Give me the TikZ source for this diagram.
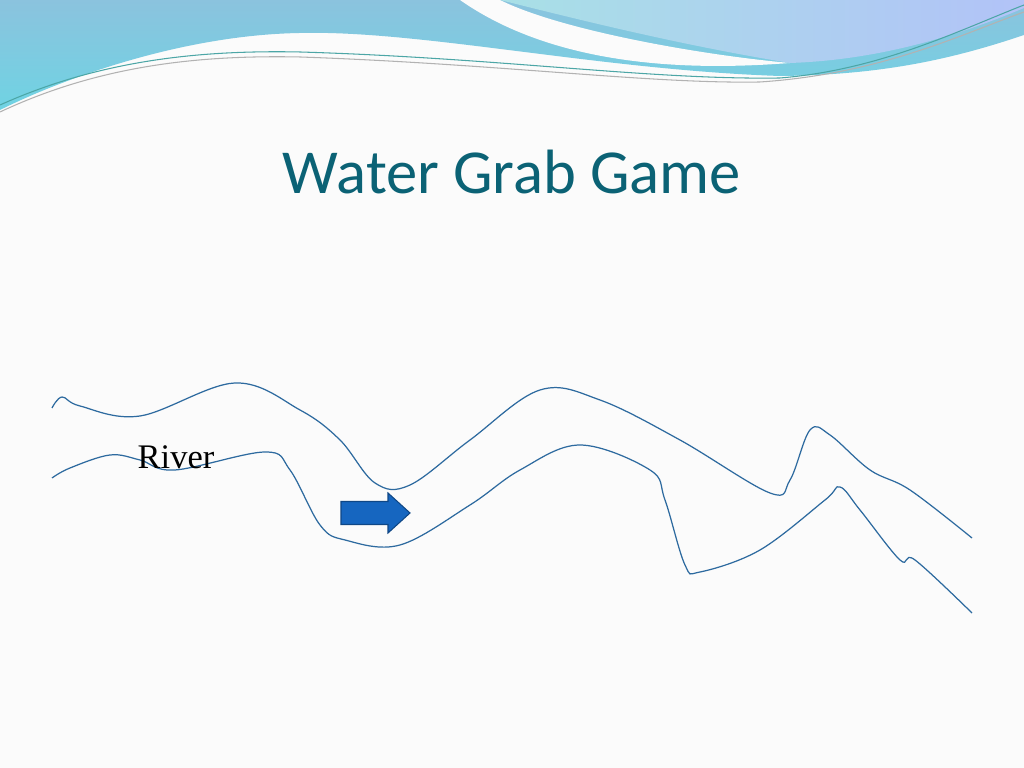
\documentclass[tikz,border=0pt]{standalone}
\usepackage{fontspec}
\setmainfont{Liberation Serif}
\newfontfamily\titlefont{Carlito}
\definecolor{titleteal}{HTML}{0B6275}
\definecolor{riverblue}{HTML}{2D6A9F}
\definecolor{bandblue}{HTML}{8BC3DE}
\definecolor{bandcyan}{HTML}{6FD3E3}
\definecolor{bandlight}{HTML}{A8E0E6}
\definecolor{arrowblue}{HTML}{1666C0}
\tikzset{
  riverbank/.style={draw=riverblue, line width=0.35pt},
  flowarrow/.style={draw=arrowblue!70!black, fill=arrowblue, line width=0.3pt}
}
\begin{document}
\begin{tikzpicture}[x=0.01cm, y=-0.01cm]
    \useasboundingbox (0,0) rectangle (1024,768);
    \fill[white!97!gray] (0,0) rectangle (1024,768);

    % Header band
    \shade[top color=bandblue, bottom color=bandcyan] (0,0) -- (1024,0) -- (1024,35)
        .. controls (950,60) and (880,75) .. (780,76)
        .. controls (600,70) and (420,30) .. (300,33)
        .. controls (180,35) and (60,80) .. (0,110) -- cycle;
    \fill[white!97!gray] (460,0) .. controls (560,70) and (700,70) .. (790,63)
        .. controls (700,55) and (560,30) .. (500,0) -- cycle;
    \shade[left color=bandlight, right color=bandlight!60!blue!50] (500,0) -- (1024,0) -- (1024,8)
        .. controls (960,35) and (880,60) .. (790,63)
        .. controls (680,45) and (580,20) .. (500,0) -- cycle;
    \draw[teal!70, line width=0.3pt] (0,105) .. controls (100,60) and (200,50) .. (300,52)
        .. controls (500,58) and (650,80) .. (780,78) .. controls (880,70) and (960,30) .. (1024,5);
    \draw[gray!60, line width=0.3pt] (0,112) .. controls (100,65) and (200,55) .. (300,57)
        .. controls (500,64) and (650,84) .. (760,82) .. controls (880,74) and (960,35) .. (1024,12);

    % Title
    \node[font=\titlefont\fontsize{17.8}{21}\selectfont, text=titleteal] (title) at (512,172) {Water Grab Game};

    % River banks
    \draw[riverbank] plot[smooth, tension=0.6] coordinates {(52,408) (62,397) (80,406) (140,416) (235,383) (300,410) (340,440) (375,483) (410,485) (470,440) (540,390) (600,400) (680,440) (770,493) (790,480) (810,430) (830,435) (870,470) (910,490) (972,538)};
    \draw[riverbank] plot[smooth, tension=0.6] coordinates {(52,478) (70,468) (110,455) (140,460) (175,470) (265,452) (290,470) (320,525) (345,540) (400,545) (470,505) (520,470) (580,445) (650,470) (665,500) (685,565) (700,572) (760,550) (825,500) (840,487) (860,510) (900,560) (915,560) (972,613)};

    % Label and flow arrow
    \node[font=\fontsize{9.8}{11}\selectfont] (river) at (176,457) {River};
    \coordinate (flow) at (341,513);
    \draw[flowarrow] (flow) ++(0,-11.5) -- ++(47,0) -- ++(0,-8.5) -- ++(22,20) -- ++(-22,20)
        -- ++(0,-8.5) -- ++(-47,0) -- cycle;
\end{tikzpicture}
\end{document}
